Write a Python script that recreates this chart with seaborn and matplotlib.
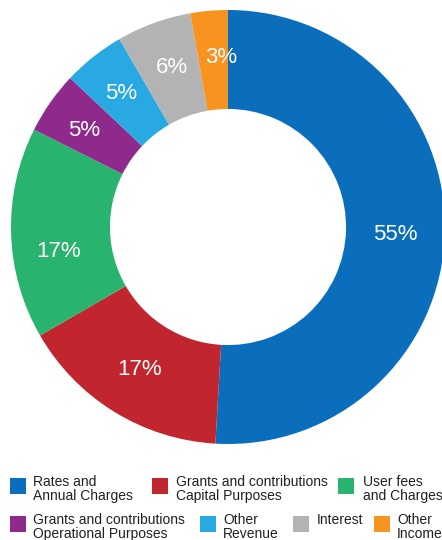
import matplotlib
matplotlib.use("Agg")
import matplotlib.pyplot as plt
import seaborn as sns
import numpy as np
from matplotlib.patches import Rectangle

categories = ["Rates and\nAnnual Charges", "Grants and contributions\nCapital Purposes",
              "User fees\nand Charges", "Grants and contributions\nOperational Purposes",
              "Other\nRevenue", "Interest", "Other\nIncome"]
values = [55, 17, 17, 5, 5, 6, 3]
colors = ["#0a6ebd", "#c1262e", "#28b36f", "#8e2a8c", "#29a9e1", "#b3b3b3", "#f7931e"]
# small hand placement tweaks of the percentage labels (pixels, x right / y down)
label_nudge = [(-3, 3), (1, -2), (1, 20), (-4, 1), (-1, 0), (2, 1), (8, 0)]

sns.set_theme(style="white")
plt.rcParams['font.family'] = ['Liberation Sans', 'DejaVu Sans']

W, H = 442, 540
fig = plt.figure(figsize=(W/100, H/100), dpi=100)
cx, cy, R = 228, 227, 217
ax = fig.add_axes([(cx-R)/W, (H-cy-R)/H, 2*R/W, 2*R/H])
wedges, texts, autotexts = ax.pie(values, colors=colors, startangle=90, counterclock=False,
                                  radius=1, wedgeprops=dict(width=0.456, linewidth=0),
                                  autopct="%1.0f", pctdistance=0.785,
                                  textprops=dict(color="white", fontsize=16))
for t, v, (nx, ny) in zip(autotexts, values, label_nudge):
    t.set_text(f"{v}%")
    x, y = t.get_position()
    t.set_position((x + nx/R, y - ny/R))
ax.set_xlim(-1, 1)
ax.set_ylim(-1, 1)
ax.set_aspect('equal')
ax.axis('off')

# legend
items = [
    (10, 478, 33, 475.5), (152, 478, 176, 475.5), (338, 478, 363, 475.5),
    (10, 516, 33, 513.5), (200, 516, 223, 513.5), (293, 516, 317, 513.5), (374, 516, 397, 513.5),
]
for (sx, sy, tx, ty), lab, col in zip(items, categories, colors):
    fig.patches.append(Rectangle((sx/W, 1-(sy+16)/H), 16/W, 16/H, transform=fig.transFigure,
                                 facecolor=col, edgecolor='none'))
    fig.text(tx/W, 1-ty/H, lab, ha='left', va='top', fontsize=10, color='#231f20',
             linespacing=0.95)

fig.savefig("out.png", dpi=100, facecolor="white")
